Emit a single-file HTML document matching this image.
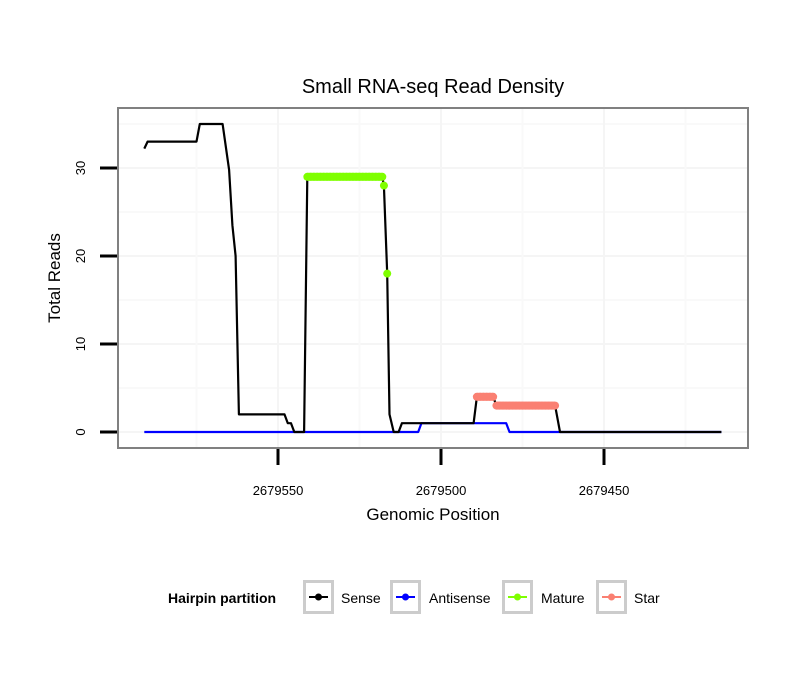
<!DOCTYPE html>
<html><head><meta charset="utf-8"><style>
body{margin:0;background:#fff;}
svg{display:block;font-family:"Liberation Sans",sans-serif;}
</style></head><body>
<svg id="chart" width="810" height="690">
<rect width="810" height="690" fill="#fff"/>
<text x="433" y="93" font-size="20" text-anchor="middle" fill="#000">Small RNA-seq Read Density</text>
<g id="grid"></g>
<g id="marks"></g>
<rect x="118" y="108" width="630" height="340" fill="none" stroke="#808080" stroke-width="2"/>
<g id="axes"></g>
<text x="433" y="520" font-size="17" text-anchor="middle">Genomic Position</text>
<text transform="translate(60,278) rotate(-90)" font-size="17" text-anchor="middle">Total Reads</text>
<g>
<text x="168" y="603" font-size="14" font-weight="bold">Hairpin partition</text>
<g id="legend"></g>
</g>
</svg>
<script>
const sensePos=[2679591,2679590,2679575,2679574,2679567,2679565,2679564,2679563,2679562,2679548,2679547,2679546,2679545,2679542,2679541,2679518,2679517.5,2679516.5,2679515.8,2679514.5,2679513,2679512,2679490,2679489,2679484,2679483,2679465,2679463.5,2679414];
const senseVal=[32.2,33,33,35,35,29.8,23.5,20,2,2,1,1,0,0,29,29,28,18,2,0,0,1,1,4,4,3,3,0,0];
const antiPos=[2679591,2679507,2679506,2679480,2679479,2679414];
const antiVal=[0,0,1,1,0,0];
const maturePos=[2679541,2679540,2679539,2679538,2679537,2679536,2679535,2679534,2679533,2679532,2679531,2679530,2679529,2679528,2679527,2679526,2679525,2679524,2679523,2679522,2679521,2679520,2679519,2679518,2679517.5,2679516.5];
const matureVal=[29,29,29,29,29,29,29,29,29,29,29,29,29,29,29,29,29,29,29,29,29,29,29,29,28,18];
const starPos=[2679489,2679488,2679487,2679486,2679485,2679484,2679483,2679482,2679481,2679480,2679479,2679478,2679477,2679476,2679475,2679474,2679473,2679472,2679471,2679470,2679469,2679468,2679467,2679466,2679465];
const starVal=[4,4,4,4,4,4,3,3,3,3,3,3,3,3,3,3,3,3,3,3,3,3,3,3,3];
const xTicks=[2679550,2679500,2679450];
const yTicks=[0,10,20,30];
const X=p=>278+(2679550-p)*3.26;
const Y=v=>432-v*8.8;
const NS="http://www.w3.org/2000/svg";
function mk(tag,attrs,parent){const e=document.createElementNS(NS,tag);for(const k in attrs)e.setAttribute(k,attrs[k]);parent.appendChild(e);return e;}
const grid=document.getElementById('grid'),marks=document.getElementById('marks'),axes=document.getElementById('axes');
for(let i=0;i<yTicks.length;i++){
 const g=mk('line',{x1:119,x2:747,y1:Y(yTicks[i]),y2:Y(yTicks[i]),stroke:'#f5f5f5','stroke-width':2},grid);
 
 
 const m=mk('line',{x1:119,x2:747,y1:Y(yTicks[i]+5),y2:Y(yTicks[i]+5),stroke:'#f9f9f9','stroke-width':2},grid);
 
 
}
const xg=[2679575,2679550,2679525,2679500,2679475,2679450,2679425];
xg.forEach((p,i)=>{const l=mk('line',{x1:X(p),x2:X(p),y1:109,y2:447,stroke:i%2?'#f5f5f5':'#f9f9f9','stroke-width':2},grid);
 
 });
yTicks.forEach(v=>{
 const t=mk('line',{x1:100,x2:117,y1:Y(v),y2:Y(v),stroke:'#000','stroke-width':3},axes);
 
 
 const tx=mk('text',{transform:`translate(85,${Y(v)}) rotate(-90)`,'font-size':13,'text-anchor':'middle'},axes);
 
 
 tx.textContent=v;
});
xTicks.forEach(p=>{
 const t=mk('line',{x1:X(p),x2:X(p),y1:449,y2:465,stroke:'#000','stroke-width':3},axes);
 
 
 const tx=mk('text',{x:X(p),y:495,'font-size':13,'text-anchor':'middle'},axes);
 
 
 tx.textContent=p;
});
function path(px,vals,color,name){
 const d=px.map((p,i)=>(i?'L':'M')+X(p).toFixed(1)+','+Y(vals[i]).toFixed(1)).join('');
 const e=mk('path',{d:d,fill:'none',stroke:color,'stroke-width':2.2,'stroke-linejoin':'round'},marks);
 
 
}
path(antiPos,antiVal,'#0000ff','antisense-line');
path(sensePos,senseVal,'#000','sense-line');
function pts(px,vals,color,name){
 px.forEach((p,i)=>{const c=mk('circle',{cx:X(p),cy:Y(vals[i]),r:4,fill:color},marks);
 
 });
 for(let i=1;i<px.length;i++){if(vals[i]===vals[i-1]){const l=mk('line',{x1:X(px[i-1]),x2:X(px[i]),y1:Y(vals[i]),y2:Y(vals[i]),stroke:color,'stroke-width':8},marks);
 
 }}
}
pts(maturePos,matureVal,'#7fff00','mature-point');
pts(starPos,starVal,'#fa8072','star-point');
const leg=document.getElementById('legend');
const items=[['Sense','#000',303,341],['Antisense','#0000ff',390,429],['Mature','#7fff00',502,541],['Star','#fa8072',596,634]];
items.forEach(it=>{
 const g=mk('g',{},leg);
 
 
 mk('rect',{x:it[2]+1.5,y:581.5,width:28,height:31,fill:'#fff',stroke:'#cccccc','stroke-width':3},g);
 mk('line',{x1:it[2]+6,x2:it[2]+25,y1:597,y2:597,stroke:it[1],'stroke-width':2},g);
 mk('circle',{cx:it[2]+15.5,cy:597,r:3.5,fill:it[1]},g);
 const t=mk('text',{x:it[3],y:603,'font-size':14},g);
 t.textContent=it[0];
});
</script>
</body></html>
